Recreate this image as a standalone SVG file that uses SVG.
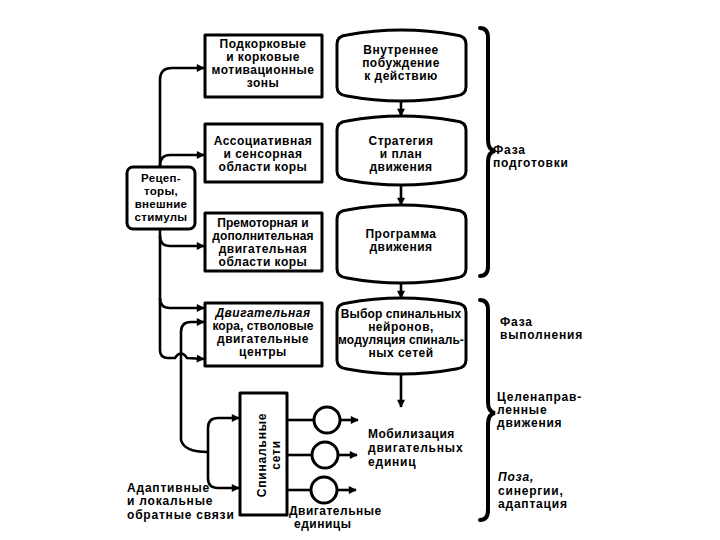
<svg xmlns="http://www.w3.org/2000/svg" width="720" height="540" viewBox="0 0 720 540">
<defs>
<marker id="ah" viewBox="0 0 10 10" refX="9" refY="5" markerWidth="9" markerHeight="8" markerUnits="userSpaceOnUse" orient="auto">
<path d="M0,0 L10,5 L0,10 z" fill="#000"/>
</marker>
<style>
.box{fill:#fff;stroke:#000;stroke-width:3;stroke-linejoin:round}
.ln{fill:none;stroke:#000;stroke-width:2.6;stroke-linejoin:round}
.br{fill:none;stroke:#000;stroke-width:4;stroke-linecap:round}
text{font-family:"Liberation Sans",Arial,sans-serif;font-weight:bold;font-size:12px;letter-spacing:0.5px;fill:#000}
.c{text-anchor:middle}
.s{letter-spacing:0.8px}
.t{letter-spacing:0.1px}
.r{font-size:11.5px;letter-spacing:0.3px}
</style>
</defs>
<rect width="720" height="540" fill="#fff"/>

<g id="connectors">
<path class="ln" d="M160,167 L160,80 Q160,68 172,68 L204,68" marker-end="url(#ah)"/>
<path class="ln" d="M160,166 Q160,155 170,155 L204,155" marker-end="url(#ah)"/>
<path class="ln" d="M160,229 L160,298 Q160,308 170,308 L204,308" marker-end="url(#ah)"/>
<path class="ln" d="M160,236 Q160,246 170,246 L204,246" marker-end="url(#ah)"/>
<path class="ln" d="M160,298 L160,350 Q160,358 168,358 L175,358 Q181,349 187,358 L204,359" marker-end="url(#ah)"/>
<path class="ln" d="M208,452 Q184,452 181,440 L181,332 Q181,322 191,322 L204,322" marker-end="url(#ah)"/>
<path class="ln" d="M208,452 L208,428 Q208,418 218,418 L239,418" marker-end="url(#ah)"/>
<path class="ln" d="M208,452 L208,478 Q208,488 218,488 L239,488" marker-end="url(#ah)"/>
<path class="ln" d="M287,420 L314,420"/>
<path class="ln" d="M287,455 L312,455"/>
<path class="ln" d="M287,490 L311,490"/>
<path class="ln" d="M340,420 L358,420" marker-end="url(#ah)"/>
<path class="ln" d="M338,455 L357,455" marker-end="url(#ah)"/>
<path class="ln" d="M337,490 L356,490" marker-end="url(#ah)"/>
<path class="ln" d="M401,100 L401,116" marker-end="url(#ah)"/>
<path class="ln" d="M401,184 L401,205" marker-end="url(#ah)"/>
<path class="ln" d="M401,282 L401,298" marker-end="url(#ah)"/>
<path class="ln" d="M401,373 L401,407" marker-end="url(#ah)"/>
<path class="br" d="M480,28 Q488,28 488,38 L488,140 Q488,150 495,151 Q488,152 488,162 L488,266 Q488,276 480,276"/>
<path class="br" d="M480,300 Q488,300 488,310 L488,402 Q488,412 495,413 Q488,414 488,424 L488,510 Q488,520 480,520"/>
</g>

<g id="n-podkorkovye">
<rect class="box" x="205" y="35" width="117" height="62"/>
<text class="c" x="263" y="48">Подкорковые</text>
<text class="c" x="263" y="61">и корковые</text>
<text class="c" x="263" y="74">мотивационные</text>
<text class="c" x="263" y="87">зоны</text>
</g>
<g id="n-assoc">
<rect class="box" x="205" y="124" width="117" height="58"/>
<text class="c" x="263" y="145">Ассоциативная</text>
<text class="c" x="263" y="158">и сенсорная</text>
<text class="c" x="263" y="171">области коры</text>
</g>
<g id="n-premotor">
<rect class="box" x="205" y="213" width="117" height="58"/>
<text class="c t" x="263" y="227">Премоторная и</text>
<text class="c t" x="263" y="240">дополнительная</text>
<text class="c" x="263" y="253">двигательная</text>
<text class="c" x="263" y="266">области коры</text>
</g>
<g id="n-motor">
<rect class="box" x="205" y="303" width="117" height="63"/>
<text class="c" x="263" y="317" font-style="italic">Двигательная</text>
<text class="c t" x="263" y="330">кора, стволовые</text>
<text class="c" x="263" y="343">двигательные</text>
<text class="c" x="263" y="356">центры</text>
</g>
<g id="n-receptors">
<rect class="box" x="127" y="167" width="68" height="62" rx="6"/>
<text class="c r" x="161" y="182">Рецеп-</text>
<text class="c r" x="161" y="195">торы,</text>
<text class="c r" x="161" y="208">внешние</text>
<text class="c r" x="161" y="221">стимулы</text>
</g>

<g id="n-pobuzhdenie">
<path class="box" d="M337,44 Q337,36 347,35 Q401,25 456,35 Q466,36 466,44 L466,87 Q466,95 456,96 Q401,106 347,96 Q337,95 337,87 Z"/>
<text class="c" x="401" y="54">Внутреннее</text>
<text class="c" x="401" y="67">побуждение</text>
<text class="c" x="401" y="80">к действию</text>
</g>
<g id="n-strategiya">
<path class="box" d="M337,130 Q337,122 347,121 Q401,111 456,121 Q466,122 466,130 L466,171 Q466,179 456,180 Q401,190 347,180 Q337,179 337,171 Z"/>
<text class="c" x="401" y="145">Стратегия</text>
<text class="c" x="401" y="158">и план</text>
<text class="c" x="401" y="171">движения</text>
</g>
<g id="n-programma">
<path class="box" d="M337,219 Q337,211 347,210 Q401,200 456,210 Q466,211 466,219 L466,269 Q466,277 456,278 Q401,288 347,278 Q337,277 337,269 Z"/>
<text class="c" x="401" y="238">Программа</text>
<text class="c" x="401" y="251">движения</text>
</g>
<g id="n-vybor">
<path class="box" d="M337,312 Q337,304 347,303 Q401,293 456,303 Q466,304 466,312 L466,360 Q466,368 456,369 Q401,379 347,369 Q337,368 337,360 Z"/>
<text class="c t" x="401" y="318">Выбор спинальных</text>
<text class="c" x="401" y="331">нейронов,</text>
<text class="c t" x="401" y="344">модуляция спиналь-</text>
<text class="c" x="401" y="357">ных сетей</text>
</g>

<g id="n-spinal">
<rect class="box" x="240" y="393" width="47" height="122"/>
<text class="c s" font-size="12.5" transform="translate(266,455) rotate(-90)">Спинальные</text>
<text class="c s" font-size="12.5" transform="translate(280,455) rotate(-90)">сети</text>
</g>
<g id="n-units">
<circle class="box" cx="327" cy="420" r="13"/>
<circle class="box" cx="325" cy="455" r="13"/>
<circle class="box" cx="324" cy="490" r="13"/>
<text x="289" y="515">Двигательные</text>
<text x="294" y="528">единицы</text>
</g>

<g id="labels">
<text x="368" y="438" font-size="13">Мобилизация</text>
<text x="368" y="452" class="s">двигательных</text>
<text x="368" y="466" class="s">единиц</text>
<text x="127" y="492" class="s">Адаптивные</text>
<text x="127" y="505" class="s">и локальные</text>
<text x="127" y="519" class="s">обратные связи</text>
<text x="493" y="154" class="s">Фаза</text>
<text x="493" y="167" class="s">подготовки</text>
<text x="500" y="326" class="s">Фаза</text>
<text x="500" y="339" class="s">выполнения</text>
<text x="497" y="401" class="s">Целенаправ-</text>
<text x="497" y="414" class="s">ленные</text>
<text x="497" y="427" class="s">движения</text>
<text x="498" y="481" class="s" font-style="italic">Поза,</text>
<text x="498" y="495" class="s">синергии,</text>
<text x="498" y="508" class="s">адаптация</text>
</g>
</svg>
